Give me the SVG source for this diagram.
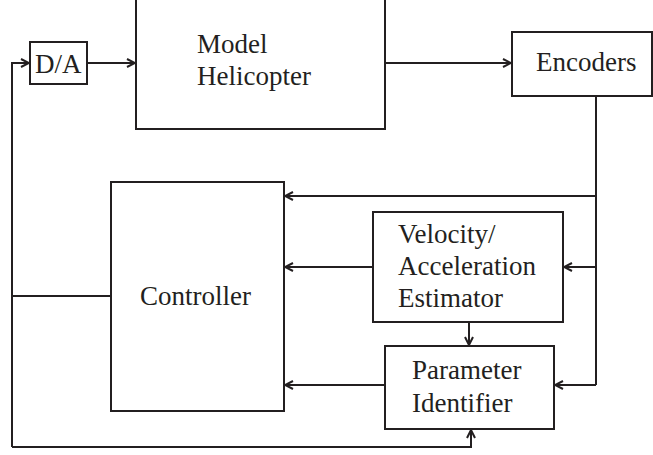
<svg xmlns="http://www.w3.org/2000/svg" width="653" height="455" viewBox="0 0 653 455">
<style>
.box{fill:#fff;stroke:#231f20;stroke-width:2}
.ln{fill:none;stroke:#231f20;stroke-width:2}
.t{font-family:'Liberation Serif','Times New Roman',serif;font-size:27px;fill:#231f20}
</style>
<defs>
<marker id="ah" viewBox="0 0 10 10" refX="9" refY="5" markerWidth="10" markerHeight="10" markerUnits="userSpaceOnUse" orient="auto">
<path d="M1,1 L9,5 L1,9" fill="none" stroke="#231f20" stroke-width="2"/>
</marker>
</defs>
<g id="connectors">
<path class="ln" d="M12,447 L12,63 L29,63" marker-end="url(#ah)"/>
<path class="ln" d="M87,63 L135,63" marker-end="url(#ah)"/>
<path class="ln" d="M385,63 L511,63" marker-end="url(#ah)"/>
<path class="ln" d="M596,96 L596,385"/>
<path class="ln" d="M596,196 L285,196" marker-end="url(#ah)"/>
<path class="ln" d="M596,267 L564,267" marker-end="url(#ah)"/>
<path class="ln" d="M373,267 L285,267" marker-end="url(#ah)"/>
<path class="ln" d="M596,385 L555,385" marker-end="url(#ah)"/>
<path class="ln" d="M385,385 L285,385" marker-end="url(#ah)"/>
<path class="ln" d="M469,322 L469,345" marker-end="url(#ah)"/>
<path class="ln" d="M12,296 L111,296"/>
<path class="ln" d="M12,447 L471,447 L471,430" marker-end="url(#ah)"/>
</g>
<g id="da">
<rect class="box" x="30" y="42" width="57" height="42"/>
<text class="t" x="35" y="73">D/A</text>
</g>
<g id="helicopter">
<rect class="box" x="136" y="-5" width="249" height="134"/>
<text class="t" x="197" y="53">Model</text>
<text class="t" x="197" y="85">Helicopter</text>
</g>
<g id="encoders">
<rect class="box" x="512" y="32" width="140" height="64"/>
<text class="t" x="536" y="71">Encoders</text>
</g>
<g id="controller">
<rect class="box" x="111" y="182" width="173" height="229"/>
<text class="t" x="140" y="305">Controller</text>
</g>
<g id="estimator">
<rect class="box" x="373" y="212" width="190" height="110"/>
<text class="t" x="398" y="243">Velocity/</text>
<text class="t" x="398" y="275">Acceleration</text>
<text class="t" x="398" y="307">Estimator</text>
</g>
<g id="identifier">
<rect class="box" x="385" y="346" width="169" height="83"/>
<text class="t" x="412" y="379">Parameter</text>
<text class="t" x="412" y="412">Identifier</text>
</g>
</svg>
